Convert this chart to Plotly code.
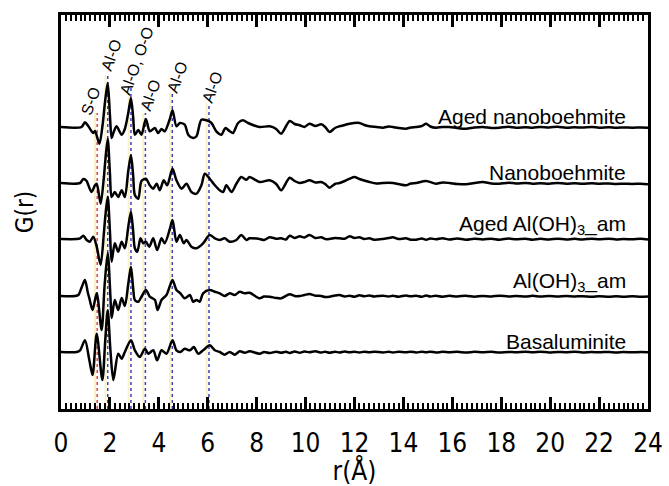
import plotly.graph_objects as go

# ---------------- data ----------------
SAMPLES = ["Aged nanoboehmite", "Nanoboehmite", "Aged Al(OH)<sub>3</sub>_am",
           "Al(OH)<sub>3</sub>_am", "Basaluminite"]
OFFSETS = [282, 226, 170, 113, 57]   # vertical stacking offsets (arb. units)

r_aged_nb = [0, 0.84, 0.98, 1.12, 1.32, 1.39, 1.57, 1.70, 1.80, 1.91, 2.0, 2.07, 2.14, 2.27, 2.48, 2.61, 2.75, 2.86, 2.95,
             3.02, 3.16, 3.29, 3.47, 3.63, 3.84, 3.97, 4.11, 4.24, 4.45, 4.56, 4.72, 4.86, 5.06, 5.20, 5.40, 5.54, 5.74,
             5.95, 6.15, 6.35, 6.56, 6.72, 6.90, 7.03, 7.24, 7.44, 7.65,
             8.12, 8.53, 8.8, 9.0, 9.35, 9.55, 9.76, 9.95, 10.16, 10.4, 10.64, 10.8, 10.98, 11.2, 11.39, 11.6, 11.8,
             12.2, 12.4, 12.61, 12.9, 13.16, 13.4, 13.57, 13.8, 14.1, 14.3, 14.52, 14.75, 14.93, 15.1, 15.33, 15.6,
             15.88, 16.2, 16.56, 16.9, 17.24, 17.6, 17.92, 18.3, 18.6, 19.0, 19.28, 19.6, 19.96, 20.3, 20.65, 21.0,
             21.32, 21.7, 22.0, 22.4, 22.7, 23.0, 23.36, 23.7, 24.0]
g_aged_nb = [0, 0, 4.7, 0.7, -6, -4, -16.7, 2, 25, 44, 12, -11, -6, 0.7, -7.7, -2, 14, 29, 10,
             -7.7, -3, -7.7, 8, -4.3, -1, -6, -2, -4.3, 8, 16.7, 0.7, 4, 2.3, -7.7, -11, -9.3, 7.3,
             6.7, 4, -4.3, -7.7, -1, -4.3, -6, 4, 6.7, 4,
             0, 0.7, -2, -6.7, 6, 3, 1.7, 0, 3.3, 1, 2.7, 0, -5, -1, 0.7, 2, 3.3,
             4, 2, 0.7, 0, -0.7, 0.5, 0, -1, -1.7, -0.5, 0, 1, 3.3, 0.5, -0.7, 0,
             0, -1, -1.7, -0.5, 0, -1, -0.7, 0.3, -0.7, -0.2, -0.7, 0, -0.5, 0.3, -0.7, -0.2,
             -0.6, 0, -0.7, -0.3, -0.8, -0.4, -0.7, -0.5, -0.7]

r_nb = [0, 0.78, 0.91, 1.05, 1.12, 1.25, 1.39, 1.46, 1.62, 1.75, 1.81, 1.91, 2.0, 2.07, 2.20, 2.34, 2.48, 2.61, 2.75,
        2.86, 2.95, 3.02, 3.16, 3.29, 3.47, 3.63, 3.77, 3.91, 4.04, 4.20, 4.34, 4.56, 4.72, 4.93, 5.13, 5.33, 5.54,
        5.74, 5.88, 6.08, 6.29, 6.49, 6.63, 6.76, 6.97, 7.17, 7.37, 7.58, 7.71,
        8.12, 8.53, 8.8, 9.0, 9.35, 9.55, 9.76, 9.95, 10.16, 10.4, 10.64, 10.8, 10.98, 11.2, 11.39, 11.6, 11.8,
        12.0, 12.2, 12.61, 12.9, 13.16, 13.57, 13.8, 14.1, 14.3, 14.52, 14.93, 15.33, 15.6, 15.88, 16.2, 16.56,
        16.9, 17.24, 17.6, 17.92, 18.3, 18.6, 19.0, 19.28, 19.6, 19.96, 20.3, 20.65, 21.0, 21.32, 21.7, 22.0,
        22.4, 22.7, 23.0, 23.36, 23.7, 24.0]
g_nb = [0, 0, 4, 2, -2.3, -9, -2.3, -0.7, -20.7, 5, 22, 44, 10, -14, -9, -14, -7.3, -14, 12,
        27.7, 8, -12, -15.7, 2, 4.3, -2.3, -5.7, -0.7, -7.3, 2.7, -2.3, 14.3, 2.7, -5.7, -0.7, -9, -10.7,
        -2.3, 9.3, 4.3, -2.3, -7.3, -9, -2.3, -9, -0.7, 6, 3.3, 6,
        1, 2.7, -1, -7.3, 5.3, 2, 0, 1, 2.7, 0.5, 1, -1, -4.7, -1, 0, 2, 4.3,
        6, 4, 1, -0.5, 0, 0, -1, -2.3, -0.5, 0, 2, -0.7, 0.5, 0, -1, -1.3,
        0, 1, -0.5, -0.7, 0.3, -0.5, 0, -0.7, -0.2, -0.7, 0, -0.7, -0.3, -0.8, -0.3, -0.7,
        -0.5, -1, -0.7, -1, -0.7, -1.3]

r_aged_am = [0, 0.64, 0.78, 0.91, 1.05, 1.18, 1.32, 1.46, 1.62, 1.75, 1.81, 1.91, 2.0, 2.07, 2.20, 2.34, 2.48, 2.61,
             2.75, 2.86, 2.95, 3.02, 3.12, 3.25, 3.36, 3.47, 3.61, 3.77, 3.93, 4.11, 4.24, 4.45, 4.56, 4.72, 4.86,
             5.02, 5.13, 5.33, 5.54, 5.81, 6.08, 6.29, 6.49, 6.69, 6.90, 7.17, 7.37, 7.58, 7.71,
             8.12, 8.3, 8.53, 8.8, 9.0, 9.2, 9.35, 9.55, 9.76, 9.95, 10.16, 10.4, 10.64, 10.8, 10.98, 11.2, 11.39,
             11.6, 11.8, 12.0, 12.2, 12.4, 12.61, 12.8, 13.16, 13.4, 13.57, 13.8, 14.1, 14.3, 14.52, 14.75, 14.93,
             15.1, 15.33, 15.6, 15.88, 16.2, 16.56, 16.9, 17.24, 17.6, 17.92, 18.3, 18.6, 19.0, 19.28, 19.6, 19.96,
             20.3, 20.65, 21.0, 21.32, 21.7, 22.0, 22.4, 22.7, 23.0, 23.36, 23.7, 24.0]
g_aged_am = [0, 0, 0.7, 3.3, -1, -2.7, 2.3, -7.7, -26, 5, 22, 42.3, 8, -22.7, -4.3, -12.7, -2.7, -9.3,
             12, 27.3, 8, -9.3, -12.7, 0.7, -4.3, -2.7, -7.7, 0.7, -11, 0.7, -4.3, 10, 19, -2.7, 4,
             -4.3, -1, -7.7, -9.3, -4.3, 4, 0.7, -1, 0.7, -2.7, -1, 4, -1, 0.7,
             0, -1, 1.7, 0.3, 0.7, -0.5, 3.3, 1, 2.7, 1.5, 4, 1, 1.7, 0, 0, 1, 0.7,
             0.3, 2.7, 1, 1.7, 0, 0.7, -0.7, 0, 1, 1.7, 0, 0.7, -0.7, -0.7, 0.5, -0.7,
             0.5, -0.3, 0.7, -0.5, 0.5, -0.7, 0.3, -0.5, 0.3, -0.7, 0.5, -0.3, 0.3, -0.7, 0.2, -0.5,
             0.3, -0.5, 0.2, -0.5, 0.3, -0.3, 0.3, -0.5, 0, -0.3, 0.2, -0.5]

r_am = [0, 0.57, 0.71, 0.85, 0.98, 1.10, 1.16, 1.29, 1.46, 1.66, 1.78, 1.91, 2.02, 2.07, 2.20, 2.34, 2.48, 2.61, 2.75,
        2.86, 2.95, 3.02, 3.16, 3.29, 3.47, 3.63, 3.84, 3.95, 4.11, 4.31, 4.45, 4.56, 4.72, 4.88, 5.06, 5.27, 5.40,
        5.54, 5.67, 5.81, 6.08, 6.29, 6.49, 6.69, 6.90, 7.10, 7.31, 7.51, 7.71,
        8.12, 8.3, 8.53, 8.8, 9.0, 9.35, 9.55, 9.76, 9.95, 10.16, 10.4, 10.64, 10.8, 10.98, 11.2, 11.39, 11.6,
        11.8, 12.0, 12.2, 12.4, 12.61, 12.8, 13.16, 13.4, 13.57, 13.8, 14.1, 14.3, 14.52, 14.75, 14.93, 15.1,
        15.33, 15.6, 15.88, 16.2, 16.56, 16.9, 17.24, 17.6, 17.92, 18.3, 18.6, 19.0, 19.28, 19.6, 19.96, 20.3,
        20.65, 21.0, 21.32, 21.7, 22.0, 22.4, 22.7, 23.0, 23.36, 23.7, 24.0]
g_am = [0, 0, 1, 9, 16, 3, -2.3, -14, 2.7, -34, 10, 42.7, 0, -22, -4, -14, -2, -10, 12,
        29.3, 8, -4, -5.7, -0.7, 6, -0.7, -4, -14, -4, 1, 10, 16, 6, 2.7, -2.3, 1, -5.7,
        -4, -5.7, 2.7, 6, 4.3, 2.7, 0, 2.7, 1, 4.3, 2.7, 3.3,
        -2.3, -0.5, -0.7, -2, -2.3, 1.7, 0, 0, 1, 2, 0.3, 0, -1, -0.7, 0.5, 1, -0.5,
        0.3, -0.7, 0.7, -0.3, 0.5, -0.5, 0.3, -0.5, 0.3, -0.7, 0.5, -0.3, 0.3, -0.7, 0.5, -0.5,
        0.3, -0.7, 0.2, -0.5, 0.3, -0.7, 0, -0.5, 0.3, -0.5, 0, -0.5, 0.2, -0.5, 0, -0.5,
        0, -0.5, -0.2, -0.7, -0.2, -0.7, -0.3, -0.7, -0.3, -0.7, -0.5]

r_bas = [0, 0.64, 0.78, 0.98, 1.16, 1.29, 1.46, 1.69, 1.81, 1.91, 2.02, 2.14, 2.34, 2.48, 2.61, 2.86, 3.02, 3.22,
         3.43, 3.57, 3.77, 3.93, 4.11, 4.31, 4.56, 4.72, 4.88, 5.06, 5.27, 5.43, 5.61, 5.81, 6.08, 6.29, 6.49,
         6.69, 6.90, 7.10, 7.31, 7.51, 7.71,
         8.12, 8.3, 8.53, 8.8, 9.0, 9.2, 9.35, 9.55, 9.76, 9.95, 10.16, 10.4, 10.64, 10.8, 10.98, 11.2, 11.39,
         11.6, 11.8, 12.0, 12.2, 12.4, 12.61, 12.8, 13.16, 13.4, 13.57, 13.8, 14.1, 14.3, 14.52, 14.75, 14.93,
         15.1, 15.33, 15.6, 15.88, 16.2, 16.56, 16.9, 17.24, 17.6, 17.92, 18.3, 18.6, 19.0, 19.28, 19.6, 19.96,
         20.3, 20.65, 21.0, 21.32, 21.7, 22.0, 22.4, 22.7, 23.0, 23.36, 23.7, 24.0]
g_bas = [0, 0, 1.7, 11.7, -8.3, -23, 18.3, -28, 12, 41.7, 2, -28, -1.7, -6.7, 0, 11.7, 1.7, -5,
         3.3, -1.7, 1.7, -8.3, 1.7, -1.7, 11.7, 1.7, 0, 3.3, 1.7, 5, -1.7, 1.7, 6.7, 1.7, 0,
         -2.7, 0, -2.7, 0.7, -0.7, 0.7,
         -1.7, 0, -1, 0.3, -0.7, 0.3, -1, 0.5, -0.7, 0.5, -0.3, 0.7, -0.5, 0.3, -0.7, 0.3, -0.5,
         0.5, -0.3, 0.3, -0.5, 0.3, -0.3, 0.3, -0.5, 0.2, -0.5, 0.3, -0.3, 0.3, -0.5, 0.2, -0.3,
         0.3, -0.5, 0.2, -0.3, 0.2, -0.5, 0.2, -0.3, 0.2, -0.5, 0.1, -0.3, 0.2, -0.3, 0.2, -0.4,
         0.1, -0.3, 0.2, -0.4, 0, -0.3, 0.1, -0.4, 0, -0.3, 0, -0.3]

R_LIST = [r_aged_nb, r_nb, r_aged_am, r_am, r_bas]
G_LIST = [g_aged_nb, g_nb, g_aged_am, g_am, g_bas]

# assigned interatomic distances (Å)
PEAK_R = [1.48, 1.91, 2.86, 3.45, 4.55, 6.05]
PEAK_LABELS = ["S-O", "Al-O", "Al-O, O-O", "Al-O", "Al-O", "Al-O"]
PEAK_COLORS = ["#e8403a", "#3b3fc4", "#3b3fc4", "#3b3fc4", "#3b3fc4", "#3b3fc4"]
LINE_TOP = [296, 334, 322, 296, 316, 306]
LABEL_X = [1.19, 2.04, 3.07, 3.64, 4.74, 6.17]
LABEL_Y = [308, 354, 348, 314, 332, 322]

X_TICKS = [0, 2, 4, 6, 8, 10, 12, 14, 16, 18, 20, 22, 24]

# ---------------- figure ----------------
fig = go.Figure()

shapes = []
for pr, col, top in zip(PEAK_R, PEAK_COLORS, LINE_TOP):
    shapes.append(dict(type="line", xref="x", yref="y", x0=pr - 0.09, x1=pr - 0.09, y0=0, y1=top,
                       line=dict(color="rgba(248,232,160,0.6)", width=2), layer="below", opacity=1))
    shapes.append(dict(type="line", xref="x", yref="y", x0=pr, x1=pr, y0=0, y1=top,
                       line=dict(color=col, width=1.5, dash="dot"), layer="below", opacity=1))

for r, g, off in zip(R_LIST, G_LIST, OFFSETS):
    fig.add_trace(go.Scatter(x=r, y=[v + off for v in g], mode="lines",
                             line=dict(color="black", width=2.5, shape="spline", smoothing=0.8),
                             hoverinfo="skip", showlegend=False))
# empty trace so that the top (mirror) tick axis is instantiated
fig.add_trace(go.Scatter(x=[], y=[], xaxis="x2", yaxis="y", showlegend=False, hoverinfo="skip"))

annotations = []
for name, off in zip(SAMPLES, OFFSETS):
    dy = 14 if "<sub>" in name else 11
    annotations.append(dict(x=23.18, y=off + dy, xref="x", yref="y", text=name, showarrow=False,
                            xanchor="right", yanchor="middle",
                            font=dict(family="Liberation Sans, Arial", size=21, color="black")))
for lab, lx, ly in zip(PEAK_LABELS, LABEL_X, LABEL_Y):
    annotations.append(dict(x=lx, y=ly, xref="x", yref="y", text=lab, showarrow=False,
                            textangle=-70, xanchor="center", yanchor="middle",
                            font=dict(family="Liberation Sans, Arial", size=16, color="black")))

minor_ticks = dict(ticks="inside", ticklen=6, tickwidth=2, tick0=0, dtick=0.2, tickcolor="black",
                   showgrid=False)

fig.update_layout(
    template="simple_white",
    width=669, height=486,
    margin=dict(l=61, r=21, t=15, b=77, autoexpand=False),
    paper_bgcolor="white", plot_bgcolor="white",
    shapes=shapes, annotations=annotations,
    xaxis=dict(range=[0, 24], tickmode="array", tickvals=X_TICKS, ticktext=[str(v) for v in X_TICKS],
               automargin=False,
               ticks="inside", ticklen=12, tickwidth=2.5,
               tickcolor="black", showline=True, linewidth=3, linecolor="black", mirror=True,
               showgrid=False, zeroline=False,
               minor=minor_ticks,
               tickfont=dict(family="DejaVu Sans Condensed, DejaVu Sans", size=26, color="black"),
               ticklabelstandoff=9,
               title=dict(text="r(Å)", font=dict(family="DejaVu Sans Condensed, DejaVu Sans", size=26,
                                                  color="black"), standoff=0)),
    xaxis2=dict(range=[0, 24], overlaying="x", side="top", anchor="y", matches="x",
                tickmode="array", tickvals=X_TICKS, showticklabels=False, automargin=False,
                ticks="inside", ticklen=12, tickwidth=2.5, tickcolor="black",
                showline=False, showgrid=False, zeroline=False, minor=minor_ticks),
    yaxis=dict(range=[0, 394], showticklabels=False, ticks="", showline=True, linewidth=3,
               automargin=False,
               linecolor="black", mirror=True, showgrid=False, zeroline=False,
               title=dict(text="G(r)", font=dict(family="DejaVu Sans Condensed, DejaVu Sans", size=24,
                                                  color="black"), standoff=18)),
)

fig.write_html("out.html")
